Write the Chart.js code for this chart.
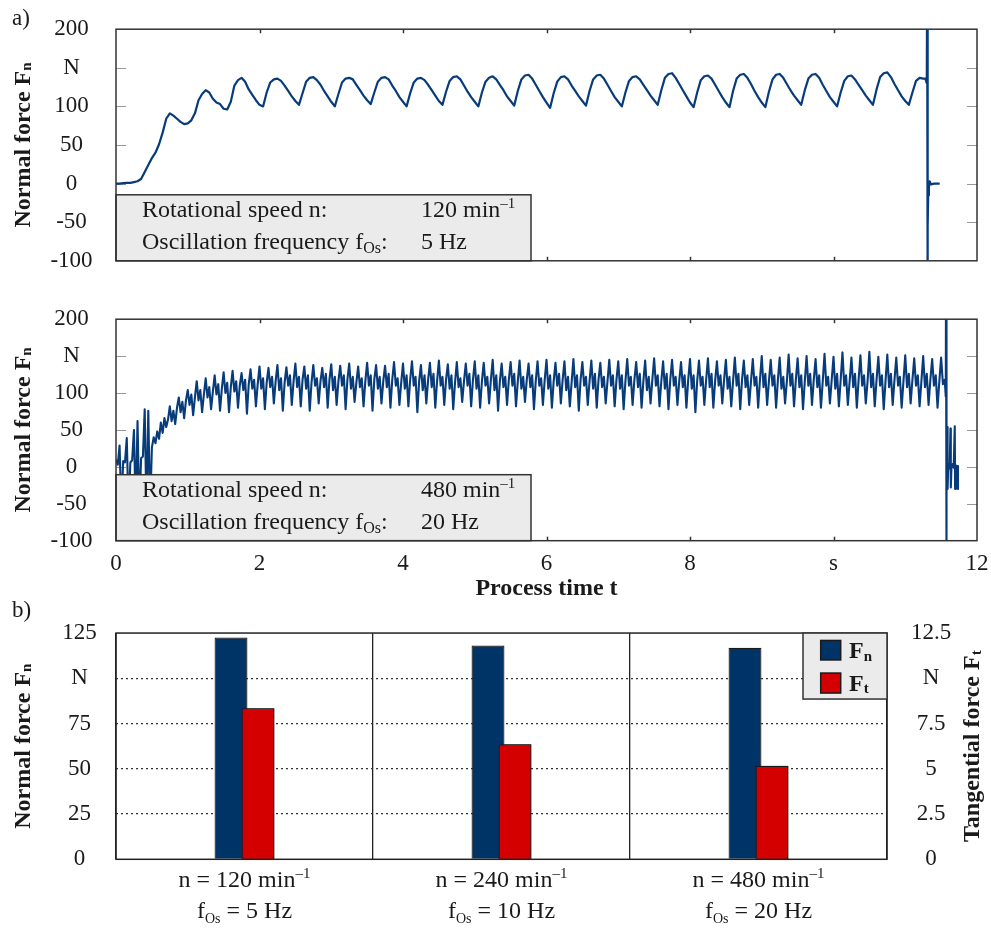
<!DOCTYPE html>
<html lang="en">

<head>
    <meta charset="UTF-8">
    <title>Normal force / tangential force</title>
    <script src="https://cdn.jsdelivr.net/npm/chart.js"></script>
    <style>
        body {
            margin: 0;
            background: #fff;
        }

        canvas {
            display: block;
        }
    </style>
</head>

<body>
    <canvas id="chartA" width="991" height="290"></canvas>
    <canvas id="chartB" width="991" height="310"></canvas>
    <canvas id="chartC" width="991" height="336"></canvas>
    <script>
        // ---- a) 120 min-1 / 5 Hz, one value every 0.05 s ----
        var stepA = 0.05;
        var forceA = [
            0, 0, 0.5, 1, 1, 2, 3, 6, 15, 24,
            33, 40, 51, 66, 84, 91, 88, 84, 80, 77,
            78, 82, 91, 108, 116, 121, 118, 110, 105, 103,
            97, 96, 106, 127, 134, 137, 132, 122, 115, 108,
            102, 100, 118, 131, 135, 136, 133, 127, 120, 113,
            107, 102, 117, 132, 137, 138, 134, 128, 120, 113,
            106, 100, 116, 131, 136, 137, 135, 128, 121, 114,
            108, 103, 118, 132, 137, 138, 135, 127, 120, 112,
            106, 100, 117, 131, 136, 137, 134, 128, 121, 114,
            107, 102, 119, 133, 138, 139, 135, 127, 119, 112,
            106, 100, 118, 132, 137, 139, 135, 128, 121, 113,
            107, 101, 120, 135, 140, 141, 136, 128, 120, 112,
            105, 98, 117, 132, 138, 139, 135, 127, 120, 113,
            107, 101, 120, 135, 140, 141, 136, 128, 120, 112,
            106, 100, 118, 133, 138, 139, 135, 128, 121, 114,
            108, 102, 121, 137, 142, 143, 137, 129, 121, 113,
            105, 99, 118, 134, 139, 140, 136, 128, 120, 112,
            105, 99, 120, 136, 141, 142, 137, 129, 120, 112,
            105, 99, 119, 135, 141, 142, 137, 129, 121, 114,
            108, 102, 121, 136, 141, 142, 137, 128, 120, 112,
            106, 100, 118, 133, 139, 140, 135, 128, 121, 114,
            108, 102, 122, 138, 143, 144, 138, 129, 121, 113,
            107, 102, 118, 133, 137, 136
        ];
        var tailTimeA = [11.28, 11.30, 11.305, 11.31, 11.315, 11.32, 11.33, 11.34, 11.36, 11.40, 11.48];
        var tailForceA = [136, 130, 260, -160, -55, -15, -5, 3, -1, 0, 0];

        // ---- b) 480 min-1 / 20 Hz, one value every 0.025 s ----
        var stepB = 0.025;
        var forceB = [
            10, 3, 29, -60, 8, 6, 39, -60, 6, 9, 50, -60, 62, -60, 12, 14, 78, -60, 76, -60,
            26, 40, 32, 48, 38, 60, 46, 66, 54, 64, 82, 62, 76, 58, 80, 94, 74, 88, 66, 90,
            104, 84, 98, 70, 94, 116, 90, 104, 74, 98, 120, 94, 108, 78, 102, 124, 98, 112, 76, 106,
            128, 100, 114, 74, 108, 130, 102, 116, 80, 110, 127, 104, 118, 72, 112, 132, 106, 118, 82, 112,
            136, 106, 120, 78, 114, 134, 108, 122, 86, 116, 138, 104, 120, 76, 114, 135, 110, 124, 84, 116,
            140, 108, 122, 82, 118, 136, 106, 124, 76, 114, 138, 110, 120, 86, 116, 134, 108, 126, 80, 118,
            139, 104, 122, 84, 116, 137, 110, 124, 78, 118, 140, 106, 122, 88, 114, 136, 108, 120, 82, 116,
            141, 110, 124, 76, 118, 138, 106, 122, 86, 116, 137, 108, 126, 80, 118, 142, 110, 120, 84, 114,
            140, 106, 124, 82, 118, 143, 110, 122, 74, 116, 138, 104, 124, 86, 118, 141, 108, 126, 80, 116,
            144, 110, 122, 84, 118, 139, 106, 124, 78, 114, 142, 108, 120, 88, 116, 140, 110, 126, 82, 118,
            143, 106, 124, 80, 116, 141, 110, 122, 86, 118, 145, 104, 124, 76, 116, 140, 108, 122, 84, 118,
            142, 110, 126, 82, 116, 144, 106, 122, 88, 118, 140, 108, 124, 78, 116, 143, 110, 120, 84, 118,
            145, 106, 124, 80, 116, 141, 110, 126, 86, 118, 143, 104, 122, 82, 114, 146, 108, 124, 76, 118,
            142, 110, 122, 84, 116, 144, 106, 126, 80, 118, 141, 108, 122, 86, 116, 145, 110, 124, 82, 118,
            143, 106, 124, 78, 116, 146, 110, 122, 84, 118, 142, 108, 126, 80, 116, 144, 104, 122, 86, 118,
            147, 110, 124, 82, 116, 143, 106, 126, 78, 118, 145, 110, 122, 84, 116, 142, 108, 124, 80, 118,
            146, 106, 124, 74, 116, 144, 110, 122, 84, 118, 147, 108, 126, 80, 116, 143, 110, 124, 86, 118,
            145, 106, 122, 82, 116, 148, 110, 126, 78, 118, 144, 108, 124, 84, 116, 146, 110, 122, 80, 118,
            150, 108, 126, 84, 116, 145, 110, 124, 80, 118, 148, 106, 122, 86, 116, 152, 110, 126, 82, 118,
            147, 108, 124, 78, 116, 150, 110, 126, 84, 118, 146, 108, 124, 80, 116, 153, 110, 122, 86, 118,
            149, 106, 126, 82, 118, 155, 110, 124, 84, 116, 148, 108, 126, 80, 118, 151, 110, 124, 86, 116,
            156, 108, 126, 82, 118, 149, 110, 124, 78, 116, 152, 108, 126, 84, 118, 148, 110, 122, 80, 116,
            151, 108, 126, 86, 118, 147, 110, 124, 82, 116, 150, 108, 126, 84, 118, 146, 110, 124, 80, 116,
            148, 112, 118
        ];
        var tailTimeB = [11.565, 11.568, 11.571, 11.575, 11.58, 11.585, 11.59, 11.60, 11.61, 11.62, 11.63, 11.635,
            11.645, 11.655, 11.665, 11.675, 11.69, 11.695, 11.705, 11.715, 11.725, 11.735];
        var tailForceB = [95, 260, -160, -50, -8, 54, -30, 4, -2, 2, 52, -28, 3, 0, 4, -1, 55, -30, 2, -1, 1, -30];

        // axes
        var timeTicks = [0, 2, 4, 6, 8, 10, 12];
        var forceTicks = [-100, -50, 0, 50, 100, 150, 200];

        // ---- b) bar chart ----
        var speeds = ['120', '240', '480'];
        var freqs = ['5', '10', '20'];
        var normalForce = [122.5, 118.1, 116.9];
        var tangentialForce = [8.35, 6.36, 5.17];

        var SERIF = '"Liberation Serif", "Times New Roman", serif';
        var lineColor = '#073b7a';
        var blue = '#003366';
        var red = '#d40000';
        var ink = '#1a1a1a';

        Chart.defaults.font.family = SERIF;
        Chart.defaults.color = ink;

        function T(text, size, dy, bold) {
            return { text: text, size: size, dy: dy || 0, bold: !!bold };
        }

        // draws a run of text pieces (for sub / superscripts)
        function drawParts(ctx, x, y, parts, align) {
            var total = 0;
            parts.forEach(function (p) {
                ctx.font = (p.bold ? 'bold ' : '') + p.size + 'px ' + SERIF;
                p.w = ctx.measureText(p.text).width;
                total += p.w;
            });
            var cx = align === 'center' ? x - total / 2 : x;
            ctx.textAlign = 'left';
            ctx.textBaseline = 'alphabetic';
            ctx.fillStyle = ink;
            parts.forEach(function (p) {
                ctx.font = (p.bold ? 'bold ' : '') + p.size + 'px ' + SERIF;
                ctx.fillText(p.text, cx, y + p.dy);
                cx += p.w;
            });
        }

        function seg(ctx, x1, y1, x2, y2) {
            ctx.beginPath();
            ctx.moveTo(x1, y1);
            ctx.lineTo(x2, y2);
            ctx.stroke();
        }

        function verticalTitle(ctx, x, cy, parts) {
            ctx.save();
            ctx.translate(x, cy);
            ctx.rotate(-Math.PI / 2);
            drawParts(ctx, 0, 0, parts, 'center');
            ctx.restore();
        }

        function toPoints(step, values, tailT, tailV) {
            var pts = values.map(function (v, i) {
                return { x: +(i * step).toFixed(3), y: v };
            });
            tailT.forEach(function (t, i) {
                pts.push({ x: t, y: tailV[i] });
            });
            return pts;
        }

        // inner tick marks, info box, frame, titles
        var timeDecor = {
            id: 'timeDecor',
            beforeDatasetsDraw: function (chart) {
                var ctx = chart.ctx, a = chart.chartArea;
                var xs = chart.scales.x, ys = chart.scales.y;
                ctx.save();
                ctx.lineWidth = 1;
                ctx.strokeStyle = '#999';
                forceTicks.slice(1, -1).forEach(function (v) {
                    var y = Math.round(ys.getPixelForValue(v)) + 0.5;
                    seg(ctx, a.left, y, a.left + 10, y);
                    seg(ctx, a.right - 10, y, a.right, y);
                });
                ctx.strokeStyle = '#333';
                ctx.lineWidth = 1.5;
                timeTicks.slice(1, -1).forEach(function (t) {
                    var x = Math.round(xs.getPixelForValue(t)) + 0.5;
                    seg(ctx, x, a.top, x, a.top + 4);
                    seg(ctx, x, a.bottom - 4, x, a.bottom);
                });
                ctx.restore();
            },
            afterDatasetsDraw: function (chart, args, o) {
                var ctx = chart.ctx, a = chart.chartArea;
                ctx.save();
                // info box
                var bw = 415, bh = 66, bx = a.left, by = a.bottom - bh;
                ctx.fillStyle = '#ebebeb';
                ctx.fillRect(bx, by, bw, bh);
                ctx.strokeStyle = '#333';
                ctx.lineWidth = 1.5;
                ctx.strokeRect(bx, by, bw, bh);
                drawParts(ctx, bx + 26, by + 22.3, [T('Rotational speed n:', 24)]);
                drawParts(ctx, bx + 305, by + 22.3, [T(o.speed + ' min', 24), T('\u20131', 15, -9)]);
                drawParts(ctx, bx + 26, by + 54, [T('Oscillation frequency f', 24), T('Os', 16, 4), T(':', 24)]);
                drawParts(ctx, bx + 305, by + 54, [T(o.freq + ' Hz', 24)]);
                // frame
                ctx.strokeStyle = '#333';
                ctx.lineWidth = 1.5;
                ctx.strokeRect(a.left, a.top, a.right - a.left, a.bottom - a.top);
                if (o.letter) drawParts(ctx, 12, 25, [T(o.letter, 23)]);
                verticalTitle(ctx, 29.5, (a.top + a.bottom) / 2, [T('Normal force F', 24, 0, true), T('n', 15, 1.5, true)]);
                ctx.restore();
            }
        };

        function forceChart(id, points, o) {
            return new Chart(document.getElementById(id), {
                type: 'line',
                data: {
                    datasets: [{
                        data: points,
                        borderColor: lineColor,
                        borderWidth: o.width,
                        borderJoinStyle: 'round',
                        pointRadius: 0,
                        tension: 0
                    }]
                },
                options: {
                    responsive: false,
                    animation: false,
                    events: [],
                    layout: { padding: { top: o.top, bottom: o.bottom, left: 0, right: 14 } },
                    plugins: {
                        legend: { display: false },
                        tooltip: { enabled: false },
                        timeDecor: { letter: o.letter, speed: o.speed, freq: o.freq }
                    },
                    scales: {
                        x: {
                            type: 'linear',
                            min: 0,
                            max: 12,
                            display: o.showX,
                            grid: { display: false },
                            border: { display: false },
                            afterBuildTicks: function (s) {
                                s.ticks = timeTicks.map(function (v) { return { value: v }; });
                            },
                            afterFit: function (s) {
                                s.paddingLeft = 0;
                                s.paddingRight = 0;
                                if (o.showX) s.height = 59.3;
                            },
                            ticks: {
                                padding: 1,
                                autoSkip: false,
                                font: { size: 23 },
                                color: ink,
                                maxRotation: 0,
                                callback: function (v) { return v === 10 ? 's' : v; }
                            },
                            title: {
                                display: true,
                                text: 'Process time t',
                                color: ink,
                                font: { size: 24, weight: 'bold', lineHeight: 1 },
                                padding: { top: 0, bottom: -1 }
                            }
                        },
                        y: {
                            min: -100,
                            max: 200,
                            grid: { display: false },
                            border: { display: false },
                            afterBuildTicks: function (s) {
                                s.ticks = forceTicks.map(function (v) { return { value: v }; });
                            },
                            afterFit: function (s) { s.width = 116; },
                            ticks: {
                                autoSkip: false,
                                crossAlign: 'center',
                                padding: 15.4,
                                font: { size: 23 },
                                color: ink,
                                callback: function (v) { return v === 150 ? 'N' : v; }
                            }
                        }
                    }
                },
                plugins: [timeDecor]
            });
        }

        forceChart('chartA', toPoints(stepA, forceA, tailTimeA, tailForceA), {
            width: 2.2, top: 28, bottom: 23, showX: false, letter: 'a)', speed: '120', freq: '5'
        });
        forceChart('chartB', toPoints(stepB, forceB, tailTimeB, tailForceB), {
            width: 2.1, top: 12, bottom: 0, showX: true, letter: '', speed: '480', freq: '20'
        });

        // bar chart decorations: red bars on top, frame, legend, labels
        var barDecor = {
            id: 'barDecor',
            afterDatasetsDraw: function (chart) {
                var ctx = chart.ctx, a = chart.chartArea, xs = chart.scales.x;
                ctx.save();
                chart.getDatasetMeta(1).data.forEach(function (bar) { bar.draw(ctx); });
                ctx.strokeStyle = '#222';
                ctx.lineWidth = 1.5;
                ctx.strokeRect(a.left, a.top, a.right - a.left, a.bottom - a.top);
                // legend
                var lw = 84, lh = 66, lx = a.right - lw, ly = a.top;
                ctx.fillStyle = '#ebebeb';
                ctx.fillRect(lx, ly, lw, lh);
                ctx.strokeStyle = '#333';
                ctx.strokeRect(lx, ly, lw, lh);
                ctx.strokeStyle = ink;
                ctx.fillStyle = blue;
                ctx.fillRect(a.right - 66.3, ly + 7.4, 20, 19.5);
                ctx.strokeRect(a.right - 66.3, ly + 7.4, 20, 19.5);
                ctx.fillStyle = red;
                ctx.fillRect(a.right - 66.3, ly + 40, 20, 20);
                ctx.strokeRect(a.right - 66.3, ly + 40, 20, 20);
                drawParts(ctx, a.right - 38, ly + 25, [T('F', 24, 0, true), T('n', 15, 2.5, true)]);
                drawParts(ctx, a.right - 38, ly + 57.7, [T('F', 24, 0, true), T('t', 15, 2.5, true)]);
                // category labels
                speeds.forEach(function (sp, i) {
                    var cx = xs.getPixelForValue(i);
                    drawParts(ctx, cx, a.bottom + 27.4, [T('n = ' + sp + ' min', 24), T('\u20131', 15, -9)], 'center');
                    drawParts(ctx, cx, a.bottom + 59, [T('f', 24), T('Os', 14, 5), T(' = ' + freqs[i] + ' Hz', 24)], 'center');
                });
                drawParts(ctx, 12, 16.7, [T('b)', 23)]);
                verticalTitle(ctx, 29.5, (a.top + a.bottom) / 2, [T('Normal force F', 24, 0, true), T('n', 15, 1.5, true)]);
                verticalTitle(ctx, 979, (a.top + a.bottom) / 2, [T('Tangential force F', 24, 0, true), T('t', 15, 1.5, true)]);
                ctx.restore();
            }
        };

        new Chart(document.getElementById('chartC'), {
            type: 'bar',
            data: {
                labels: speeds,
                datasets: [{
                    label: 'Fn',
                    data: normalForce,
                    yAxisID: 'y',
                    backgroundColor: blue,
                    borderColor: ink,
                    borderWidth: 1.2,
                    categoryPercentage: 0.21,
                    barPercentage: 1.22
                }, {
                    label: 'Ft',
                    data: tangentialForce,
                    yAxisID: 'y2',
                    backgroundColor: red,
                    borderColor: ink,
                    borderWidth: 1.2,
                    categoryPercentage: 0.21,
                    barPercentage: 1.22
                }]
            },
            options: {
                responsive: false,
                animation: false,
                events: [],
                layout: { padding: { top: 28.3, bottom: 0, left: 0, right: 0 } },
                plugins: {
                    legend: { display: false },
                    tooltip: { enabled: false }
                },
                scales: {
                    x: {
                        offset: true,
                        grid: { offset: true, color: '#222', lineWidth: 1.3, drawTicks: false },
                        border: { display: false },
                        ticks: { display: false },
                        afterFit: function (s) { s.height = 76.7; }
                    },
                    y: {
                        position: 'left',
                        min: 0,
                        max: 125,
                        grid: {
                            drawTicks: false,
                            lineWidth: 1.3,
                            color: function (c) {
                                var v = c.tick ? c.tick.value : null;
                                return (v === 0 || v === 125) ? 'rgba(0,0,0,0)' : '#333';
                            }
                        },
                        border: { display: false, dash: [2, 3] },
                        afterFit: function (s) { s.width = 116; },
                        ticks: {
                            stepSize: 25,
                            crossAlign: 'center',
                            padding: 19.25,
                            font: { size: 23 },
                            color: ink,
                            callback: function (v) { return v === 100 ? 'N' : v; }
                        }
                    },
                    y2: {
                        position: 'right',
                        min: 0,
                        max: 12.5,
                        grid: { display: false },
                        border: { display: false },
                        afterFit: function (s) { s.width = 104; },
                        ticks: {
                            stepSize: 2.5,
                            crossAlign: 'center',
                            padding: 15.9,
                            font: { size: 23 },
                            color: ink,
                            callback: function (v) { return v === 10 ? 'N' : String(v); }
                        }
                    }
                }
            },
            plugins: [barDecor]
        });
    </script>
</body>

</html>
